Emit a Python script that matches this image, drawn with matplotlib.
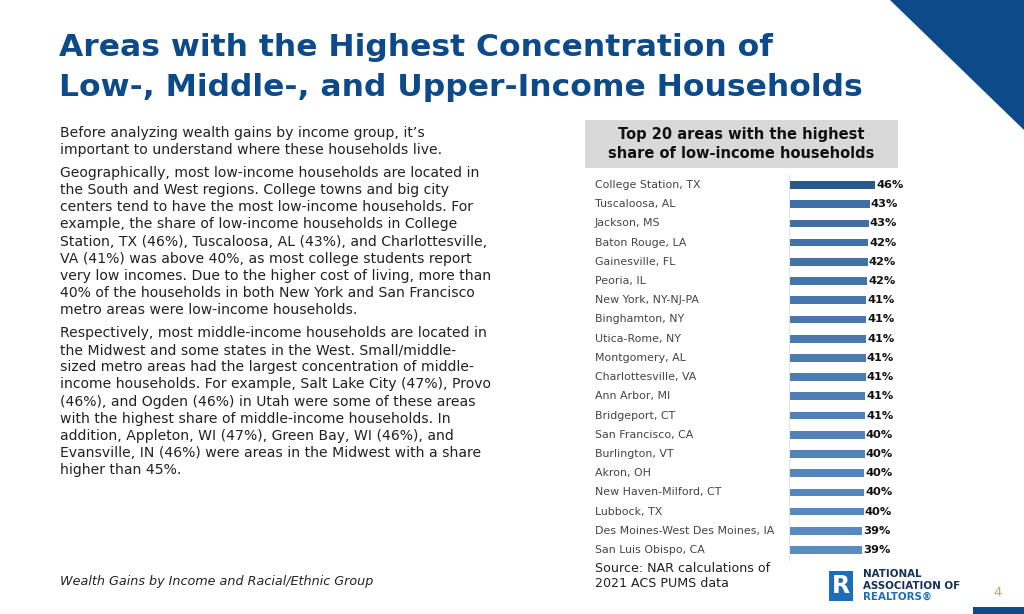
import numpy as np
import matplotlib
matplotlib.use('Agg')
import matplotlib.pyplot as plt
from matplotlib import transforms
from matplotlib.patches import Polygon, Rectangle

# top 20 areas, share of low-income households (%)
areas = ['College Station, TX', 'Tuscaloosa, AL', 'Jackson, MS', 'Baton Rouge, LA',
         'Gainesville, FL', 'Peoria, IL', 'New York, NY-NJ-PA', 'Binghamton, NY',
         'Utica-Rome, NY', 'Montgomery, AL', 'Charlottesville, VA', 'Ann Arbor, MI',
         'Bridgeport, CT', 'San Francisco, CA', 'Burlington, VT', 'Akron, OH',
         'New Haven-Milford, CT', 'Lubbock, TX', 'Des Moines-West Des Moines, IA',
         'San Luis Obispo, CA']
shares = [46.0, 43.1, 42.6, 42.3, 42.0, 41.7, 41.3, 41.2, 41.1, 41.0,
          41.0, 40.8, 40.7, 40.5, 40.4, 40.2, 40.1, 40.0, 39.3, 39.2]
share_labels = ['46%', '43%', '43%', '42%', '42%', '42%', '41%', '41%', '41%', '41%',
                '41%', '41%', '41%', '40%', '40%', '40%', '40%', '40%', '39%', '39%']

title_lines = ['Areas with the Highest Concentration of',
               'Low-, Middle-, and Upper-Income Households']

para1 = ["Before analyzing wealth gains by income group, it\u2019s",
         "important to understand where these households live."]
para2 = ["Geographically, most low-income households are located in",
         "the South and West regions. College towns and big city",
         "centers tend to have the most low-income households. For",
         "example, the share of low-income households in College",
         "Station, TX (46%), Tuscaloosa, AL (43%), and Charlottesville,",
         "VA (41%) was above 40%, as most college students report",
         "very low incomes. Due to the higher cost of living, more than",
         "40% of the households in both New York and San Francisco",
         "metro areas were low-income households."]
para3 = ["Respectively, most middle-income households are located in",
         "the Midwest and some states in the West. Small/middle-",
         "sized metro areas had the largest concentration of middle-",
         "income households. For example, Salt Lake City (47%), Provo",
         "(46%), and Ogden (46%) in Utah were some of these areas",
         "with the highest share of middle-income households. In",
         "addition, Appleton, WI (47%), Green Bay, WI (46%), and",
         "Evansville, IN (46%) were areas in the Midwest with a share",
         "higher than 45%."]

W, H = 1024, 614
NAVY = '#0d4a8a'

fig = plt.figure(figsize=(W / 100, H / 100), dpi=100)
fig.patch.set_facecolor('white')


def px(x, y):
    # pixel coords (top-left origin) -> figure fraction
    return x / W, 1 - y / H


# corner decorations
fig.patches.append(Polygon([px(890, 0), px(1024, 0), px(1024, 130)], closed=True,
                           transform=fig.transFigure, facecolor=NAVY, edgecolor='none'))
fig.patches.append(Rectangle(px(973, 614), 51 / W, 7 / H, transform=fig.transFigure,
                             facecolor=NAVY, edgecolor='none'))

# title
for i, line in enumerate(title_lines):
    fig.text(*px(59, 47 + i * 41), line, fontsize=22.6, fontweight='bold', color=NAVY,
             va='center', ha='left', family='DejaVu Sans')

# body text
y = 133
for para in [para1, para2, para3]:
    for line in para:
        fig.text(*px(60, y), line, fontsize=10.05, color='#222222', va='center', ha='left')
        y += 17.1
    y += 6
fig.text(*px(60, 581), 'Wealth Gains by Income and Racial/Ethnic Group', fontsize=9.2,
         style='italic', color='#222222', va='center', ha='left')

# chart header box
fig.patches.append(Rectangle(px(585, 168), 313 / W, 48 / H, transform=fig.transFigure,
                             facecolor='#d9d9d9', edgecolor='none'))
fig.text(*px(741, 144), 'Top 20 areas with the highest\nshare of low-income households',
         fontsize=10.5, fontweight='bold', color='#111111', ha='center', va='center',
         linespacing=1.3)

# bar chart
x0, x1 = 789, 1000
top, bot = 175.4, 559.6
ax = fig.add_axes([x0 / W, 1 - bot / H, (x1 - x0) / W, (bot - top) / H])
pos = np.arange(len(areas))
cmap = matplotlib.colors.LinearSegmentedColormap.from_list('b', ['#3d6ca1', '#5a8bc3'])
colors = [cmap(i / (len(areas) - 1)) for i in pos]
colors[0] = '#2a5889'
ax.barh(pos, shares, height=0.4, color=colors)
ax.set_xlim(0, (x1 - x0) / 1.87)
ax.set_ylim(len(areas) - 0.5, -0.5)
for s in ['top', 'right', 'bottom']:
    ax.spines[s].set_visible(False)
ax.spines['left'].set_color('#e6e6e6')
ax.spines['left'].set_linewidth(0.8)
ax.set_xticks([])
ax.set_yticks([])
ax.patch.set_alpha(0)

for p, v, lab in zip(pos, shares, share_labels):
    ax.text(v + 0.6, p, lab, fontsize=8.2, fontweight='bold', color='#111111',
            va='center', ha='left')

trans = transforms.blended_transform_factory(fig.transFigure, ax.transData)
for p, name in zip(pos, areas):
    ax.text(595 / W, p, name, transform=trans, fontsize=7.9, color='#444444',
            va='center', ha='left', clip_on=False)

# source
fig.text(*px(595, 576), 'Source: NAR calculations of\n2021 ACS PUMS data', fontsize=9.1,
         color='#222222', va='center', ha='left', linespacing=1.2)

# logo
fig.patches.append(Rectangle(px(829, 601), 24 / W, 30 / H, transform=fig.transFigure,
                             facecolor='#1f6db5', edgecolor='none'))
fig.text(*px(841, 586), 'R', fontsize=17, fontweight='bold', color='white',
         ha='center', va='center')
fig.text(*px(863, 574), 'NATIONAL', fontsize=7.4, fontweight='bold', color='#17305a',
         va='center', ha='left')
fig.text(*px(863, 586), 'ASSOCIATION OF', fontsize=7.4, fontweight='bold', color='#17305a',
         va='center', ha='left')
fig.text(*px(863, 597), 'REALTORS\u00ae', fontsize=7.4, fontweight='bold', color='#1f6db5',
         va='center', ha='left')
fig.text(*px(998, 593), '4', fontsize=9.5, color='#b9a57a', va='center', ha='center')

fig.savefig('out.png', dpi=100, facecolor='white')
